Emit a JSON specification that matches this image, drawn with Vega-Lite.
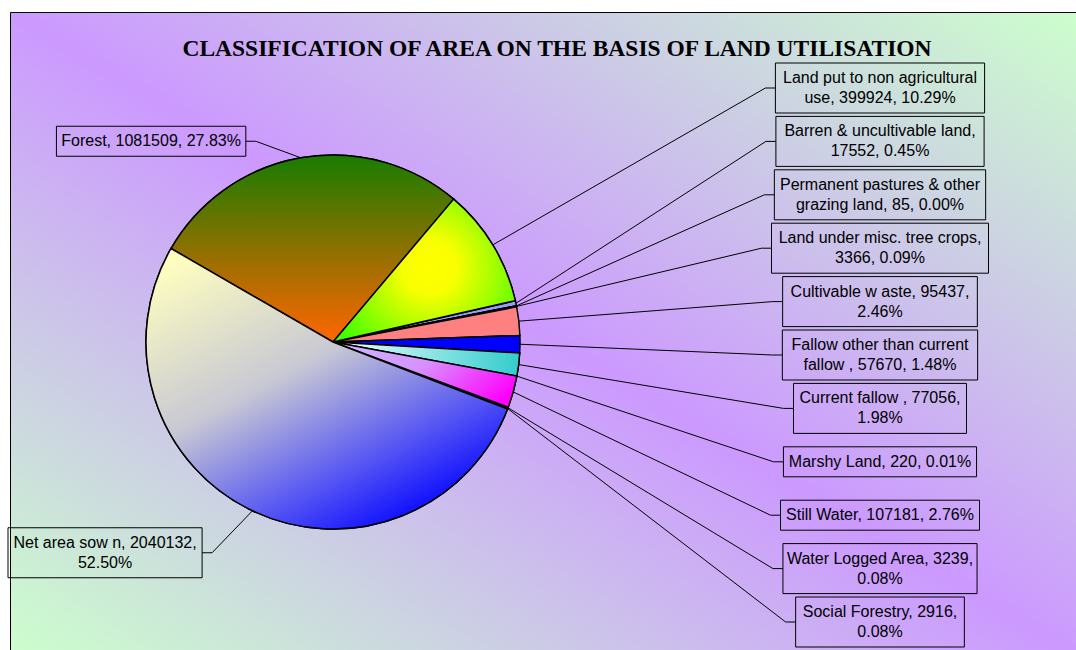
{
  "$schema": "https://vega.github.io/schema/vega-lite/v6.json",
  "width": 1070,
  "height": 645,
  "autosize": {"type": "none"},
  "padding": {"left": 10, "top": 12, "right": 0, "bottom": 0},
  "background": "white",
  "title": {
    "text": "CLASSIFICATION OF AREA ON THE BASIS OF LAND UTILISATION",
    "font": "Liberation Serif",
    "fontSize": 23.5,
    "fontWeight": "bold",
    "color": "#000000",
    "anchor": "middle",
    "baseline": "alphabetic",
    "offset": -67,
    "dx": 12
  },
  "config": {
    "view": {
      "fill": {
        "gradient": "linear",
        "x1": 0, "y1": 1, "x2": 1, "y2": 0,
        "stops": [
          {"offset": 0, "color": "#CCFFCC"},
          {"offset": 0.5, "color": "#CC99FF"},
          {"offset": 1, "color": "#CCFFCC"}
        ]
      },
      "stroke": "#000000",
      "strokeWidth": 1
    }
  },
  "data": {
    "values": [
      {"name": "Forest", "area": 1081509, "pct": 27.83, "lines": ["Forest, 1081509, 27.83%"]},
      {"name": "Land put to non agricultural use", "area": 399924, "pct": 10.29, "lines": ["Land put to non agricultural", "use, 399924, 10.29%"]},
      {"name": "Barren & uncultivable land", "area": 17552, "pct": 0.45, "lines": ["Barren & uncultivable land,", "17552, 0.45%"]},
      {"name": "Permanent pastures & other grazing land", "area": 85, "pct": 0.00, "lines": ["Permanent pastures & other", "grazing land, 85, 0.00%"]},
      {"name": "Land under misc. tree crops", "area": 3366, "pct": 0.09, "lines": ["Land under misc. tree crops,", "3366, 0.09%"]},
      {"name": "Cultivable waste", "area": 95437, "pct": 2.46, "lines": ["Cultivable w aste, 95437,", "2.46%"]},
      {"name": "Fallow other than current fallow", "area": 57670, "pct": 1.48, "lines": ["Fallow  other than current", "fallow , 57670, 1.48%"]},
      {"name": "Current fallow", "area": 77056, "pct": 1.98, "lines": ["Current fallow , 77056,", "1.98%"]},
      {"name": "Marshy Land", "area": 220, "pct": 0.01, "lines": ["Marshy Land, 220, 0.01%"]},
      {"name": "Still Water", "area": 107181, "pct": 2.76, "lines": ["Still Water, 107181, 2.76%"]},
      {"name": "Water Logged Area", "area": 3239, "pct": 0.08, "lines": ["Water Logged Area, 3239,", "0.08%"]},
      {"name": "Social Forestry", "area": 2916, "pct": 0.08, "lines": ["Social Forestry, 2916,", "0.08%"]},
      {"name": "Net area sown", "area": 2040132, "pct": 52.50, "lines": ["Net area sow n, 2040132,", "52.50%"]}
    ]
  },
  "transform": [
    {"window": [{"op": "row_number", "as": "idx"}, {"op": "sum", "field": "area", "as": "cum1"}], "frame": [null, 0]},
    {"joinaggregate": [{"op": "sum", "field": "area", "as": "total"}]},
    {"calculate": "(datum.cum1 - datum.area) / datum.total", "as": "f0"},
    {"calculate": "datum.cum1 / datum.total", "as": "f1"},
    {"calculate": "-PI/3 + PI*(datum.f0 + datum.f1)", "as": "m"},
    {"calculate": "333 + 187*sin(datum.m)", "as": "ex"},
    {"calculate": "342 - 187*cos(datum.m)", "as": "ey"},
    {"calculate": "sin(datum.m) > 0 ? 'R' : 'L'", "as": "side"},
    {"window": [{"op": "row_number", "as": "k"}], "groupby": ["side"], "sort": [{"field": "idx", "order": "ascending"}]},
    {"calculate": "length(datum.lines)", "as": "nl"},
    {"calculate": "datum.lines[0]", "as": "s0"},
    {"calculate": "datum.nl > 1 ? datum.lines[1] : ''", "as": "s1"},
    {"calculate": "length(datum.s0) - length(replace(datum.s0, regexp('[ijlftr ,.]', 'g'), ''))", "as": "n0"},
    {"calculate": "length(datum.s0) - length(replace(datum.s0, regexp('[mwMW%&]', 'g'), ''))", "as": "v0"},
    {"calculate": "length(datum.s1) - length(replace(datum.s1, regexp('[ijlftr ,.]', 'g'), ''))", "as": "n1"},
    {"calculate": "length(datum.s1) - length(replace(datum.s1, regexp('[mwMW%&]', 'g'), ''))", "as": "v1"},
    {"calculate": "4.7*datum.n0 + 12.5*datum.v0 + 8.8*(length(datum.s0) - datum.n0 - datum.v0)", "as": "w0"},
    {"calculate": "4.7*datum.n1 + 12.5*datum.v1 + 8.8*(length(datum.s1) - datum.n1 - datum.v1)", "as": "w1"},
    {"calculate": "max(datum.w0, datum.w1) + 12", "as": "bw"},
    {"calculate": "20*datum.nl + 10", "as": "bh"},
    {"calculate": "datum.side == 'R' ? 88 + (datum.k - 1)*53.4 : datum.ey + 14 - 31*cos(datum.m)", "as": "ty"},
    {"calculate": "datum.ty - (datum.nl - 1)*10", "as": "tyt"},
    {"calculate": "datum.side == 'R' ? 880 : max(datum.ex - 55 - datum.bw/2, 8 + datum.bw/2)", "as": "tx"},
    {"calculate": "datum.tx - datum.bw/2", "as": "bx0"},
    {"calculate": "datum.tx + datum.bw/2", "as": "bx1"},
    {"calculate": "datum.ty - datum.bh/2", "as": "by0"},
    {"calculate": "datum.ty + datum.bh/2", "as": "by1"},
    {"calculate": "datum.side == 'R' ? datum.bx0 : datum.bx1", "as": "jx"},
    {"calculate": "datum.side == 'R' ? datum.bx0 - 10 : datum.bx1 + 10", "as": "kx"}
  ],
  "layer": [
    {
      "mark": {"type": "arc", "outerRadius": 187, "stroke": "#000000", "strokeWidth": 1.5},
      "encoding": {
        "x": {"datum": 333, "type": "quantitative", "scale": {"domain": [10, 1080], "range": [0, 1070]}, "axis": null},
        "y": {"datum": 342, "type": "quantitative", "scale": {"domain": [12, 657], "range": [0, 645]}, "axis": null},
        "theta": {"field": "f0", "type": "quantitative", "stack": null, "scale": {"domain": [0, 1], "range": [-1.0472, 5.236]}},
        "theta2": {"field": "f1"},
        "fill": {
          "field": "name", "type": "nominal", "legend": null,
          "scale": {
            "domain": ["Forest", "Land put to non agricultural use", "Barren & uncultivable land", "Permanent pastures & other grazing land", "Land under misc. tree crops", "Cultivable waste", "Fallow other than current fallow", "Current fallow", "Marshy Land", "Still Water", "Water Logged Area", "Social Forestry", "Net area sown"],
            "range": ["#8C7000", "#CCFF00", "#9999FF", "#993366", "#FFFFCC", "#FF8080", "#0000FF", "#66CCCC", "#FF00FF", "#FF66FF", "#FF33CC", "#CC66FF", "#9999EE"]
          }
        }
      }
    },
    {
      "transform": [{"filter": "datum.name == 'Forest'"}],
      "mark": {"type": "arc", "outerRadius": 187, "stroke": "#000000", "strokeWidth": 1.5,
        "fill": {"gradient": "linear", "x1": 0, "y1": 0, "x2": 0, "y2": 1, "stops": [{"offset": 0, "color": "#187C00"}, {"offset": 1, "color": "#FF6600"}]}},
      "encoding": {
        "x": {"datum": 333, "type": "quantitative", "scale": {"domain": [10, 1080], "range": [0, 1070]}, "axis": null},
        "y": {"datum": 342, "type": "quantitative", "scale": {"domain": [12, 657], "range": [0, 645]}, "axis": null},
        "theta": {"field": "f0", "type": "quantitative", "stack": null, "scale": {"domain": [0, 1], "range": [-1.0472, 5.236]}},
        "theta2": {"field": "f1"}
      }
    },
    {
      "transform": [{"filter": "datum.name == 'Land put to non agricultural use'"}],
      "mark": {"type": "arc", "outerRadius": 187, "stroke": "#000000", "strokeWidth": 1.5,
        "fill": {"gradient": "radial", "x1": 0.53, "y1": 0.48, "r1": 0, "x2": 0.53, "y2": 0.48, "r2": 0.6, "stops": [{"offset": 0, "color": "#FFFF00"}, {"offset": 0.25, "color": "#F8FF00"}, {"offset": 1, "color": "#40FF00"}]}},
      "encoding": {
        "x": {"datum": 333, "type": "quantitative", "scale": {"domain": [10, 1080], "range": [0, 1070]}, "axis": null},
        "y": {"datum": 342, "type": "quantitative", "scale": {"domain": [12, 657], "range": [0, 645]}, "axis": null},
        "theta": {"field": "f0", "type": "quantitative", "stack": null, "scale": {"domain": [0, 1], "range": [-1.0472, 5.236]}},
        "theta2": {"field": "f1"}
      }
    },
    {
      "transform": [{"filter": "datum.name == 'Current fallow'"}],
      "mark": {"type": "arc", "outerRadius": 187, "stroke": "#000000", "strokeWidth": 1.5,
        "fill": {"gradient": "linear", "x1": 0, "y1": 0.5, "x2": 1, "y2": 0.5, "stops": [{"offset": 0, "color": "#F4FFFF"}, {"offset": 1, "color": "#33CCCC"}]}},
      "encoding": {
        "x": {"datum": 333, "type": "quantitative", "scale": {"domain": [10, 1080], "range": [0, 1070]}, "axis": null},
        "y": {"datum": 342, "type": "quantitative", "scale": {"domain": [12, 657], "range": [0, 645]}, "axis": null},
        "theta": {"field": "f0", "type": "quantitative", "stack": null, "scale": {"domain": [0, 1], "range": [-1.0472, 5.236]}},
        "theta2": {"field": "f1"}
      }
    },
    {
      "transform": [{"filter": "datum.name == 'Still Water'"}],
      "mark": {"type": "arc", "outerRadius": 187, "stroke": "#000000", "strokeWidth": 1.5,
        "fill": {"gradient": "linear", "x1": 0, "y1": 0.3, "x2": 1, "y2": 0.7, "stops": [{"offset": 0, "color": "#CCB4FF"}, {"offset": 0.45, "color": "#D890FF"}, {"offset": 1, "color": "#FF00FF"}]}},
      "encoding": {
        "x": {"datum": 333, "type": "quantitative", "scale": {"domain": [10, 1080], "range": [0, 1070]}, "axis": null},
        "y": {"datum": 342, "type": "quantitative", "scale": {"domain": [12, 657], "range": [0, 645]}, "axis": null},
        "theta": {"field": "f0", "type": "quantitative", "stack": null, "scale": {"domain": [0, 1], "range": [-1.0472, 5.236]}},
        "theta2": {"field": "f1"}
      }
    },
    {
      "transform": [{"filter": "datum.name == 'Net area sown'"}],
      "mark": {"type": "arc", "outerRadius": 187, "stroke": "#000000", "strokeWidth": 1.5,
        "fill": {"gradient": "linear", "x1": 0.05, "y1": 0.05, "x2": 0.7, "y2": 1, "stops": [{"offset": 0, "color": "#FFFFC0"}, {"offset": 0.45, "color": "#C8C8D4"}, {"offset": 0.8, "color": "#5050F5"}, {"offset": 1, "color": "#0808FF"}]}},
      "encoding": {
        "x": {"datum": 333, "type": "quantitative", "scale": {"domain": [10, 1080], "range": [0, 1070]}, "axis": null},
        "y": {"datum": 342, "type": "quantitative", "scale": {"domain": [12, 657], "range": [0, 645]}, "axis": null},
        "theta": {"field": "f0", "type": "quantitative", "stack": null, "scale": {"domain": [0, 1], "range": [-1.0472, 5.236]}},
        "theta2": {"field": "f1"}
      }
    },
    {
      "mark": {"type": "rule", "color": "#000000", "strokeWidth": 1},
      "encoding": {
        "x": {"field": "ex", "type": "quantitative", "scale": {"domain": [10, 1080], "range": [0, 1070]}, "axis": null},
        "y": {"field": "ey", "type": "quantitative", "scale": {"domain": [12, 657], "range": [0, 645]}, "axis": null},
        "x2": {"field": "kx"},
        "y2": {"field": "ty"}
      }
    },
    {
      "mark": {"type": "rule", "color": "#000000", "strokeWidth": 1},
      "encoding": {
        "x": {"field": "kx", "type": "quantitative", "scale": {"domain": [10, 1080], "range": [0, 1070]}, "axis": null},
        "y": {"field": "ty", "type": "quantitative", "scale": {"domain": [12, 657], "range": [0, 645]}, "axis": null},
        "x2": {"field": "jx"},
        "y2": {"field": "ty"}
      }
    },
    {
      "mark": {"type": "rect", "fill": "transparent", "stroke": "#000000", "strokeWidth": 1},
      "encoding": {
        "x": {"field": "bx0", "type": "quantitative", "scale": {"domain": [10, 1080], "range": [0, 1070]}, "axis": null},
        "x2": {"field": "bx1"},
        "y": {"field": "by0", "type": "quantitative", "scale": {"domain": [12, 657], "range": [0, 645]}, "axis": null},
        "y2": {"field": "by1"}
      }
    },
    {
      "mark": {"type": "text", "font": "Liberation Sans", "fontSize": 16, "lineHeight": 20, "align": "center", "baseline": "middle", "color": "#000000"},
      "encoding": {
        "x": {"field": "tx", "type": "quantitative", "scale": {"domain": [10, 1080], "range": [0, 1070]}, "axis": null},
        "y": {"field": "tyt", "type": "quantitative", "scale": {"domain": [12, 657], "range": [0, 645]}, "axis": null},
        "text": {"field": "lines"}
      }
    }
  ]
}
